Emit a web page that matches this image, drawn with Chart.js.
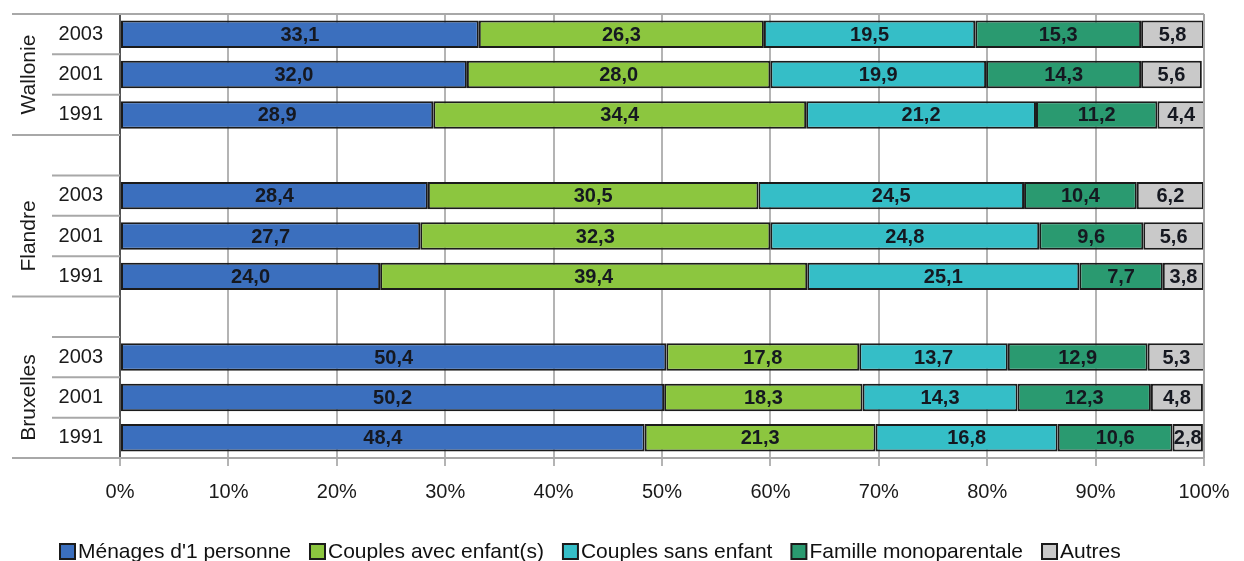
<!DOCTYPE html>
<html>
<head>
<meta charset="utf-8">
<script src="https://cdn.jsdelivr.net/npm/chart.js@4.4.1/dist/chart.umd.min.js"></script>
<style>
  html, body { margin: 0; padding: 0; background: #fff; }
  #wrap { width: 1244px; height: 561px; position: relative; }
</style>
</head>
<body>
<div id="wrap"><canvas id="chart"></canvas></div>
<script>
// rows top to bottom, empty rows separate the regions
const years = ['2003', '2001', '1991', '', '2003', '2001', '1991', '', '2003', '2001', '1991'];
const regions = ['Wallonie', 'Flandre', 'Bruxelles'];
const regionRows = [1, 5, 9];

const menages1 = [33.1, 32.0, 28.9, null, 28.4, 27.7, 24.0, null, 50.4, 50.2, 48.4];
const couplesEnfants = [26.3, 28.0, 34.4, null, 30.5, 32.3, 39.4, null, 17.8, 18.3, 21.3];
const couplesSans = [19.5, 19.9, 21.2, null, 24.5, 24.8, 25.1, null, 13.7, 14.3, 16.8];
const monoparentale = [15.3, 14.3, 11.2, null, 10.4, 9.6, 7.7, null, 12.9, 12.3, 10.6];
const autres = [5.8, 5.6, 4.4, null, 6.2, 5.6, 3.8, null, 5.3, 4.8, 2.8];

const FONT = "'Liberation Sans', Arial, sans-serif";

let series = function(label, data, color) {
  return {
    label: label,
    data: data,
    backgroundColor: color,
    borderColor: '#1b1b1b',
    borderWidth: 2,
    borderSkipped: false,
    barPercentage: 0.68,
    categoryPercentage: 1.0
  };
};

// value in the middle of every segment
const valueLabels = {
  id: 'valueLabels',
  afterDatasetsDraw(chart) {
    const ctx = chart.ctx;
    ctx.save();
    ctx.font = 'bold 20px ' + FONT;
    ctx.fillStyle = '#151820';
    ctx.textAlign = 'center';
    ctx.textBaseline = 'middle';
    chart.data.datasets.forEach((ds, i) => {
      chart.getDatasetMeta(i).data.forEach((bar, j) => {
        const v = ds.data[j];
        if (v === null) return;
        const x = (bar.x + bar.base) / 2;
        ctx.fillText(v.toFixed(1).replace('.', ','), x, bar.y + 1);
      });
    });
    ctx.restore();
  }
};

// region names and the separators of the category axis
const groupAxis = {
  id: 'groupAxis',
  afterDraw(chart) {
    const ctx = chart.ctx;
    const y = chart.scales.y;
    const area = chart.chartArea;
    const step = y.getPixelForValue(1) - y.getPixelForValue(0);
    const edge = i => y.getPixelForValue(i) - step / 2;
    ctx.save();
    ctx.strokeStyle = '#a8a8a8';
    ctx.lineWidth = 2;
    let line = (yy, x0, x1) => {
      ctx.beginPath();
      ctx.moveTo(x0, yy);
      ctx.lineTo(x1, yy);
      ctx.stroke();
    };
    [0, 3, 7, 11].forEach(i => line(edge(i), 12, i === 0 || i === 11 ? area.right : area.left));
    [1, 2, 4, 5, 6, 8, 9, 10].forEach(i => line(edge(i), 52, area.left));
    // right border of the plot
    ctx.beginPath();
    ctx.moveTo(area.right, area.top);
    ctx.lineTo(area.right, area.bottom);
    ctx.stroke();
    ctx.font = '21px ' + FONT;
    ctx.fillStyle = '#1a1a1a';
    ctx.textAlign = 'center';
    ctx.textBaseline = 'middle';
    regions.forEach((name, k) => {
      ctx.save();
      ctx.translate(29, y.getPixelForValue(regionRows[k]));
      ctx.rotate(-Math.PI / 2);
      ctx.fillText(name, 0, 0);
      ctx.restore();
    });
    ctx.restore();
  }
};

// legend row under the axis: square swatch then the series name
const legendRow = {
  id: 'legendRow',
  afterDraw(chart) {
    const ctx = chart.ctx;
    const yy = 551;
    let x = 60;
    ctx.save();
    ctx.font = '21px ' + FONT;
    ctx.textBaseline = 'middle';
    ctx.textAlign = 'left';
    chart.data.datasets.forEach(ds => {
      ctx.fillStyle = ds.backgroundColor;
      ctx.fillRect(x, yy - 7, 15, 15);
      ctx.strokeStyle = '#1b1b1b';
      ctx.lineWidth = 2;
      ctx.strokeRect(x, yy - 7, 15, 15);
      ctx.fillStyle = '#111';
      ctx.fillText(ds.label, x + 18, yy + 1);
      x += 18 + ctx.measureText(ds.label).width + 19;
    });
    ctx.restore();
  }
};

new Chart(document.getElementById('chart'), {
  type: 'bar',
  data: {
    labels: years,
    datasets: [
      series("Ménages d'1 personne", menages1, '#3b6fbe'),
      series('Couples avec enfant(s)', couplesEnfants, '#8cc63f'),
      series('Couples sans enfant', couplesSans, '#35bec7'),
      series('Famille monoparentale', monoparentale, '#2a9a70'),
      series('Autres', autres, '#c9c9c9')
    ]
  },
  options: {
    indexAxis: 'y',
    responsive: true,
    maintainAspectRatio: false,
    animation: false,
    layout: { padding: { top: 14, right: 40, left: 0, bottom: 0 } },
    plugins: {
      tooltip: { enabled: false },
      legend: { display: false }
    },
    scales: {
      x: {
        stacked: true,
        min: 0,
        max: 100,
        ticks: {
          stepSize: 10,
          padding: 14,
          color: '#1a1a1a',
          font: { family: FONT, size: 20 },
          callback: v => v + '%'
        },
        grid: { color: '#b4b4b4', lineWidth: 2, tickLength: 8 },
        border: { display: false },
        afterFit: scale => { scale.height = 103; }
      },
      y: {
        stacked: true,
        ticks: {
          padding: 17,
          color: '#1a1a1a',
          font: { family: FONT, size: 20 }
        },
        grid: { display: false, drawTicks: false },
        border: { display: true, color: '#555', width: 2 },
        afterFit: scale => {
          scale.width = 120;
          scale.paddingTop = 0;
          scale.paddingBottom = 0;
        }
      }
    }
  },
  plugins: [valueLabels, groupAxis, legendRow]
});
</script>
</body>
</html>
